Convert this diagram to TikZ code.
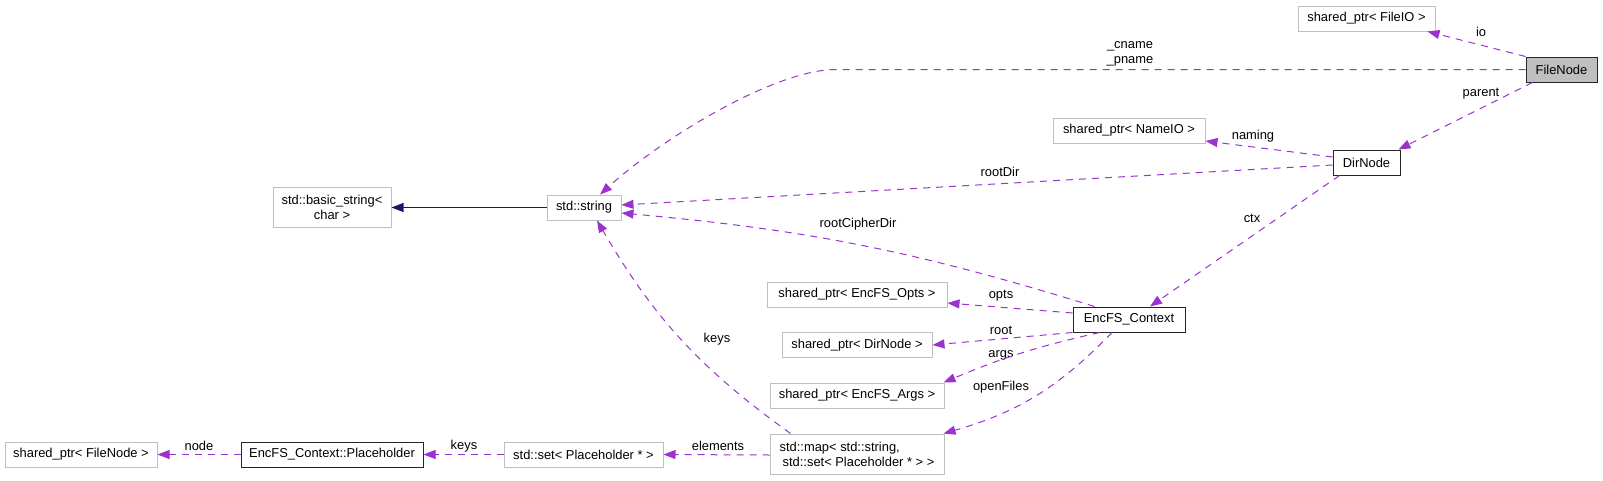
\documentclass[tikz,border=0pt]{standalone}
\usepackage{fontspec}
\setmainfont{Liberation Sans}
\usetikzlibrary{arrows.meta,calc}
\definecolor{edgecol}{HTML}{9A32CD}
\definecolor{inhcol}{HTML}{191970}
\definecolor{graybord}{HTML}{BFBFBF}
\definecolor{grayfill}{HTML}{BFBFBF}
\tikzset{
  base/.style={rectangle,inner sep=0pt,font=\fontsize{12.9}{15}\selectfont,align=center,line width=1pt},
  ext/.style={base,draw=graybord},
  cls/.style={base,draw=black!85,line width=1pt},
  cur/.style={cls,fill=grayfill},
  lbl/.style={inner sep=0pt,font=\fontsize{12.9}{15}\selectfont,align=center},
  uses/.style={draw=edgecol,line width=1pt,dash pattern=on 7pt off 6pt,-{Triangle[length=12pt,width=9pt]}},
  inh/.style={draw=inhcol,line width=1.2pt,-{Triangle[length=12pt,width=9pt]}},
}
\begin{document}
\begin{tikzpicture}[x=1pt,y=-1pt]
\useasboundingbox (0,0) rectangle (1603,480);
% nodes
\node[cur,minimum width=71pt,minimum height=25pt] (filenode) at (1561.5,69.5) {FileNode};
\node[ext,minimum width=137pt,minimum height=25pt] (fileio) at (1366.5,18.5) {shared\_ptr< FileIO >};
\node[cls,minimum width=67pt,minimum height=25pt] (dirnode) at (1366.5,162.5) {DirNode};
\node[ext,minimum width=152pt,minimum height=25pt] (nameio) at (1129,130.5) {shared\_ptr< NameIO >};
\node[ext,minimum width=74pt,minimum height=25pt] (string) at (584,207.5) {std::string};
\node[ext,minimum width=118pt,minimum height=40pt] (basic) at (332,207.5) {std::basic\_string<\\char >};
\node[cls,minimum width=112pt,minimum height=25pt] (ctx) at (1129,319.5) {EncFS\_Context};
\node[ext,minimum width=180pt,minimum height=25pt] (opts) at (857,294.5) {shared\_ptr< EncFS\_Opts >};
\node[ext,minimum width=150pt,minimum height=25pt] (dirptr) at (857,345) {shared\_ptr< DirNode >};
\node[ext,minimum width=174pt,minimum height=25pt] (args) at (857,395.5) {shared\_ptr< EncFS\_Args >};
\node[ext,minimum width=174pt,minimum height=40pt,align=left] (map) at (857,454) {std::map< std::string,\\\hspace*{3pt}std::set< Placeholder * > >};
\node[ext,minimum width=159pt,minimum height=25pt] (set) at (583.5,454.5) {std::set< Placeholder * >};
\node[cls,minimum width=182pt,minimum height=25pt] (ph) at (332,454.5) {EncFS\_Context::Placeholder};
\node[ext,minimum width=152pt,minimum height=25pt] (fnptr) at (81,454.5) {shared\_ptr< FileNode >};
% labels
\node[lbl] (l_io) at (1481,32) {io};
\node[lbl] (l_name) at (1130,54) {\_cname\\\_pname};
\node[lbl] (l_parent) at (1481,94) {parent};
\node[lbl] (l_naming) at (1253,136) {naming};
\node[lbl] (l_rootdir) at (1000,172) {rootDir};
\node[lbl] (l_ctx) at (1252,218) {ctx};
\node[lbl] (l_rcd) at (858,224) {rootCipherDir};
\node[lbl] (l_opts) at (1001,296) {opts};
\node[lbl] (l_root) at (1001,330) {root};
\node[lbl] (l_args) at (1001,355) {args};
\node[lbl] (l_open) at (1001,387) {openFiles};
\node[lbl] (l_keys1) at (717,339) {keys};
\node[lbl] (l_elem) at (718,446) {elements};
\node[lbl] (l_keys2) at (464,446) {keys};
\node[lbl] (l_node) at (199,446) {node};
% edges
\draw[inh] (string.west) -- (basic.east);
\draw[uses] (filenode.north west) -- ($(fileio.south east)+(-8,0)$);
\draw[uses] (filenode.west) -- (833,69.5) .. controls (770,72) and (660,140) .. ($(string.north)+(16,0)$);
\draw[uses] ($(filenode.south west)+(7,0)$) -- ($(dirnode.north east)+(-2,0)$);
\draw[uses] ($(dirnode.west)+(0,-5.5)$) -- ($(nameio.east)+(0,10.5)$);
\draw[uses] ($(dirnode.west)+(0,2.5)$) -- ($(string.east)+(0,-2.5)$);
\draw[uses] ($(dirnode.south west)+(7,0)$) -- ($(ctx.north)+(21,0)$);
\draw[uses] ($(ctx.north west)+(22,0)$) to[bend right=6] ($(string.east)+(0,5.5)$);
\draw[uses] ($(ctx.west)+(0,-6.5)$) -- ($(opts.east)+(0,8.5)$);
\draw[uses] (ctx.south west) -- (dirptr.east);
\draw[uses] ($(ctx.south west)+(27,0)$) to[bend right=5] ($(args.north east)+(-1,0)$);
\draw[uses] ($(ctx.south)+(-17,0)$) to[bend left=15] ($(map.north east)+(-1,0)$);
\draw[uses] ($(map.north west)+(21,0)$) to[bend left=12] ($(string.south)+(13,0)$);
\draw[uses] ($(map.west)+(0,1)$) -- (set.east);
\draw[uses] (set.west) -- (ph.east);
\draw[uses] (ph.west) -- (fnptr.east);
\end{tikzpicture}
\end{document}
